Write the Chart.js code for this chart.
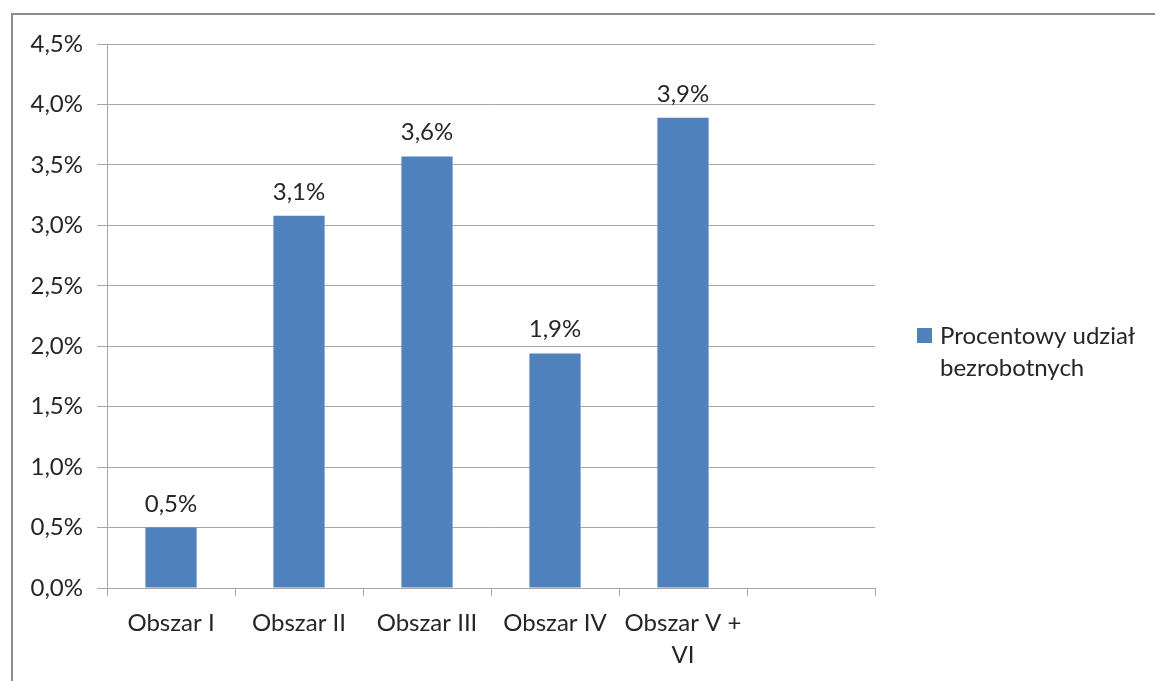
<!DOCTYPE html>
<html>
<head>
<meta charset="utf-8">
<script src="https://cdn.jsdelivr.net/npm/chart.js@4"></script>
<style>
  html, body { margin: 0; padding: 0; background: #fff; }
  canvas { display: block; }
</style>
</head>
<body>
<canvas id="chart" width="1155" height="681"></canvas>
<script>
// Data
const categories = ['Obszar I', 'Obszar II', 'Obszar III', 'Obszar IV', ['Obszar V +', 'VI'], ''];
const shares = [0.50, 3.08, 3.57, 1.94, 3.89, null];
const seriesName = ['Procentowy udział', 'bezrobotnych'];
const yTicksMax = 4.5;
const yTicksStep = 0.5;

const FONT = 'Lato, "Open Sans", sans-serif';
const TEXT = '#262626';
const BAR = '#4f81bd';
const GRID = '#a6a6a6';

const fmt = v => v.toFixed(1).replace('.', ',') + '%';

// frame around the whole picture (top and left edges visible)
const framePlugin = {
  id: 'frame',
  beforeDraw(chart) {
    const ctx = chart.ctx;
    ctx.save();
    ctx.strokeStyle = '#8c8c8c';
    ctx.lineWidth = 2;
    ctx.strokeRect(12, 14, 1300, 800);
    ctx.restore();
  }
};

// value labels above bars
const valueLabels = {
  id: 'valueLabels',
  afterDatasetsDraw(chart) {
    const ctx = chart.ctx;
    const meta = chart.getDatasetMeta(0);
    ctx.save();
    ctx.font = '24px ' + FONT;
    ctx.fillStyle = TEXT;
    ctx.textAlign = 'center';
    ctx.textBaseline = 'alphabetic';
    meta.data.forEach((bar, i) => {
      const v = shares[i];
      if (v == null) return;
      ctx.fillText(fmt(v), bar.x, bar.y - 16);
    });
    ctx.restore();
  }
};

// legend on the right, two lines of text
const sideLegend = {
  id: 'sideLegend',
  afterDraw(chart) {
    const ctx = chart.ctx;
    ctx.save();
    ctx.fillStyle = BAR;
    ctx.fillRect(917, 328, 15, 15);
    ctx.font = '24px ' + FONT;
    ctx.fillStyle = TEXT;
    ctx.textAlign = 'left';
    ctx.textBaseline = 'middle';
    seriesName.forEach((line, i) => ctx.fillText(line, 940, 336 + i * 32));
    ctx.restore();
  }
};

new Chart(document.getElementById('chart'), {
  type: 'bar',
  data: {
    labels: categories,
    datasets: [{
      label: seriesName.join(' '),
      data: shares,
      backgroundColor: BAR,
      borderWidth: 0,
      categoryPercentage: 1,
      barPercentage: 0.4
    }]
  },
  options: {
    responsive: false,
    animation: false,
    layout: { padding: { left: 0, top: 44, right: 280, bottom: 0 } },
    plugins: {
      legend: { display: false },
      tooltip: { enabled: false }
    },
    scales: {
      y: {
        min: 0,
        max: yTicksMax,
        ticks: {
          stepSize: yTicksStep,
          color: TEXT,
          font: { family: FONT, size: 24 },
          padding: 14,
          callback: v => fmt(v)
        },
        grid: { color: GRID, lineWidth: 1, tickLength: 10 },
        border: { color: GRID, width: 1 },
        afterFit(scale) { scale.width = 107; }
      },
      x: {
        ticks: {
          color: TEXT,
          font: { family: FONT, size: 24, lineHeight: 1.3 },
          padding: 12,
          maxRotation: 0,
          autoSkip: false
        },
        grid: { drawOnChartArea: false, color: GRID, tickLength: 8, offset: true },
        border: { color: GRID, width: 1 },
        afterFit(scale) { scale.height = 93; }
      }
    }
  },
  plugins: [framePlugin, valueLabels, sideLegend]
});
</script>
</body>
</html>
